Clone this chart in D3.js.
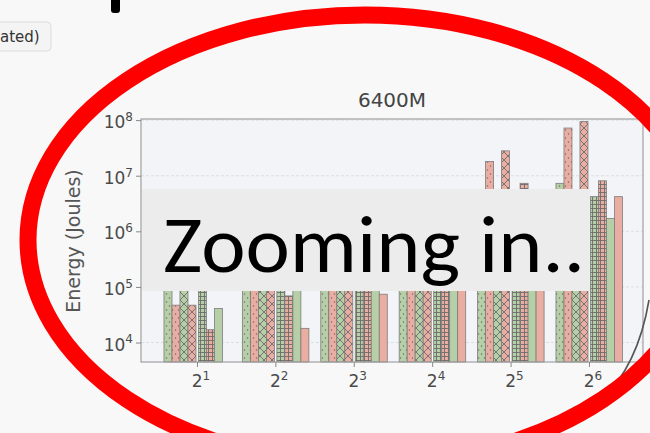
<!DOCTYPE html>
<html>
<head>
<meta charset="utf-8">
<script src="https://cdn.jsdelivr.net/npm/d3@7"></script>
<style>
  body { margin: 0; background: #f8f8f8; }
  svg { display: block; }
  .axis text { font-family: "DejaVu Sans", sans-serif; fill: #4a4a4a; }
  .axis .domain { display: none; }
  .axis .tick line { stroke: #888; }
</style>
</head>
<body>
<div id="chart"></div>
<script>
// group positions are powers of two on the x axis
const exponents = [1, 2, 3, 4, 5, 6]
const seriesNames = ['dotGreen', 'dotRed', 'crossGreen', 'crossRed', 'gridGreen', 'gridRed', 'plainGreen', 'plainRed']

// energy in joules (values under the grey banner are estimates)
const dotGreen   = [2.0e5, 4.0e5, 6.0e5, 1.0e6, 2.0e6, 7.3e6]
const dotRed     = [4.7e4, 3.0e5, 8.0e5, 1.5e6, 1.8e7, 7.2e7]
const crossGreen = [2.5e5, 5.0e5, 7.0e5, 1.2e6, 2.5e6, 4.0e6]
const crossRed   = [4.7e4, 3.5e5, 9.0e5, 2.0e6, 2.8e7, 9.4e7]
const gridGreen  = [2.2e5, 3.0e5, 5.0e5, 8.0e5, 1.5e6, 4.2e6]
const gridRed    = [1.7e4, 6.9e4, 4.0e5, 9.0e5, 7.3e6, 8.1e6]
const plainGreen = [4.1e4, 3.0e5, 6.0e5, 1.0e6, 2.0e6, 1.7e6]
const plainRed   = [null, 1.8e4, 7.4e4, 4.0e5, 1.5e6, 4.2e6]

const yTicks = [4, 5, 6, 7, 8]

const seriesValues = [dotGreen, dotRed, crossGreen, crossRed, gridGreen, gridRed, plainGreen, plainRed]
const hatches = ['dot', 'dot', 'cross', 'cross', 'grid', 'grid', 'none', 'none']
const colors = { green: '#b7cfa6', red: '#eaada2' }

const W = 650, H = 433
const plot = { left: 141, right: 643, top: 119, bottom: 362 }
const barW = 8

const svg = d3.select('#chart').append('svg')
    .attr('width', W)
    .attr('height', H)

svg.append('rect').attr('width', W).attr('height', H).attr('fill', '#f8f8f8')

// hatch patterns, aligned to the page like matplotlib hatches
const defs = svg.append('defs')
function makePattern(id, fill, kind){
    let size = kind === 'cross' ? 8 : (kind === 'grid' ? 4 : 6)
    let h = kind === 'dot' ? 8 : size
    let p = defs.append('pattern')
        .attr('id', id)
        .attr('patternUnits', 'userSpaceOnUse')
        .attr('width', size)
        .attr('height', h)
    p.append('rect').attr('width', size).attr('height', h).attr('fill', fill)
    let ink = '#6b6b6b'
    if(kind === 'dot'){
        p.append('circle').attr('cx', 1.5).attr('cy', 2).attr('r', 0.75).attr('fill', ink)
        p.append('circle').attr('cx', 4.5).attr('cy', 6).attr('r', 0.75).attr('fill', ink)
    }else if(kind === 'cross'){
        p.append('path').attr('d', 'M0,0L8,8M8,0L0,8')
            .attr('stroke', ink).attr('stroke-width', 0.9)
    }else if(kind === 'grid'){
        p.append('path').attr('d', 'M0,0.5H4M0.5,0V4')
            .attr('stroke', ink).attr('stroke-width', 0.9)
    }
}
;['dot', 'cross', 'grid'].forEach(k => {
    makePattern(`h-${k}-green`, colors.green, k)
    makePattern(`h-${k}-red`, colors.red, k)
})

const xScale = d3.scaleLog().base(2)
    .domain([2 ** 0.286, 2 ** 6.689])
    .range([plot.left, plot.right])
const yScale = d3.scaleLog()
    .domain([10 ** 3.65, 10 ** 8.02])
    .range([plot.bottom, plot.top])

// plot background and grid
svg.append('rect')
    .attr('x', plot.left).attr('y', plot.top)
    .attr('width', plot.right - plot.left).attr('height', plot.bottom - plot.top)
    .attr('fill', '#f3f4f7')

svg.append('g').selectAll('line')
    .data(yTicks)
    .enter()
    .append('line')
    .attr('x1', plot.left).attr('x2', plot.right)
    .attr('y1', d => yScale(10 ** d)).attr('y2', d => yScale(10 ** d))
    .attr('stroke', '#d6d8dc')
    .attr('stroke-dasharray', '3,2')
    .attr('stroke-width', 0.8)

// bars
const bars = []
seriesValues.forEach((vals, s) => {
    vals.forEach((v, g) => {
        if(v == null) return
        bars.push({ s, g, v })
    })
})

svg.append('g').selectAll('rect')
    .data(bars)
    .enter()
    .append('rect')
    .attr('x', d => {
        let cx = xScale(2 ** exponents[d.g])
        return d.s < 4 ? cx - 1 + (d.s - 4) * barW : cx + 1.5 + (d.s - 4) * barW
    })
    .attr('y', d => yScale(d.v))
    .attr('width', barW)
    .attr('height', d => plot.bottom - yScale(d.v))
    .attr('fill', d => {
        let c = d.s % 2 === 0 ? 'green' : 'red'
        return hatches[d.s] === 'none' ? colors[c] : `url(#h-${hatches[d.s]}-${c})`
    })
    .attr('stroke', '#7c7c7c')
    .attr('stroke-width', 0.8)

// spines
svg.append('rect')
    .attr('x', plot.left).attr('y', plot.top)
    .attr('width', plot.right - plot.left).attr('height', plot.bottom - plot.top)
    .attr('fill', 'none')
    .attr('stroke', '#a0a0a0')
    .attr('stroke-width', 1.2)

// axes
const yAxis = svg.append('g')
    .attr('class', 'axis')
    .attr('transform', `translate(${plot.left}, 0)`)
    .call(d3.axisLeft(yScale).tickValues(yTicks.map(d => 10 ** d)).tickSize(5).tickPadding(3))
yAxis.selectAll('.tick text')
    .attr('font-size', 17)
    .attr('dy', '0.45em')
    .each(function(d){
        let t = d3.select(this).text('10')
        t.append('tspan').attr('dy', '-0.6em').attr('font-size', 12).text(Math.round(Math.log10(d)))
    })

const xAxis = svg.append('g')
    .attr('class', 'axis')
    .attr('transform', `translate(0, ${plot.bottom})`)
    .call(d3.axisBottom(xScale).tickValues(exponents.map(e => 2 ** e)).tickSize(5).tickPadding(8))
xAxis.selectAll('.tick text')
    .attr('font-size', 17)
    .attr('text-anchor', 'middle')
    .attr('dx', '0.2em')
    .each(function(d){
        let t = d3.select(this).text('2')
        t.append('tspan').attr('dy', '-0.6em').attr('font-size', 12).text(Math.round(Math.log2(d)))
    })

svg.append('text')
    .attr('x', (plot.left + plot.right) / 2)
    .attr('y', 107)
    .attr('text-anchor', 'middle')
    .attr('font-family', 'DejaVu Sans, sans-serif')
    .attr('font-size', 20)
    .attr('fill', '#444')
    .text('6400M')

svg.append('text')
    .attr('transform', 'translate(80, 241) rotate(-90)')
    .attr('text-anchor', 'middle')
    .attr('font-family', 'DejaVu Sans, sans-serif')
    .attr('font-size', 19)
    .attr('fill', '#555')
    .text('Energy (Joules)')

// slide furniture: the banner, the leftover button and the red ring
svg.append('rect')
    .attr('x', 142).attr('y', 189)
    .attr('width', 448).attr('height', 102)
    .attr('fill', '#ececec')

svg.append('text')
    .attr('x', 163)
    .attr('y', 272)
    .attr('font-family', 'Carlito, "Open Sans", sans-serif')
    .attr('font-size', 80)
    .attr('fill', '#000')
    .attr('textLength', 422)
    .attr('lengthAdjust', 'spacingAndGlyphs')
    .text('Zooming in..')

svg.append('rect')
    .attr('x', -6).attr('y', 22)
    .attr('width', 57).attr('height', 29)
    .attr('rx', 4)
    .attr('fill', '#f4f4f4')
    .attr('stroke', '#dcdcdc')

svg.append('text')
    .attr('x', 0).attr('y', 42)
    .attr('font-family', 'DejaVu Sans, sans-serif')
    .attr('font-size', 15)
    .attr('fill', '#333')
    .text('ated)')

svg.append('rect')
    .attr('x', 111).attr('y', -4)
    .attr('width', 9).attr('height', 17)
    .attr('rx', 3)
    .attr('fill', '#000')

svg.append('path')
    .attr('d', 'M600,402 Q638,366 649,300')
    .attr('fill', 'none')
    .attr('stroke', '#555')
    .attr('stroke-width', 1.6)

svg.append('ellipse')
    .attr('cx', 365).attr('cy', 240)
    .attr('rx', 337).attr('ry', 225)
    .attr('fill', 'none')
    .attr('stroke', '#ff0000')
    .attr('stroke-width', 17)
</script>
</body>
</html>
